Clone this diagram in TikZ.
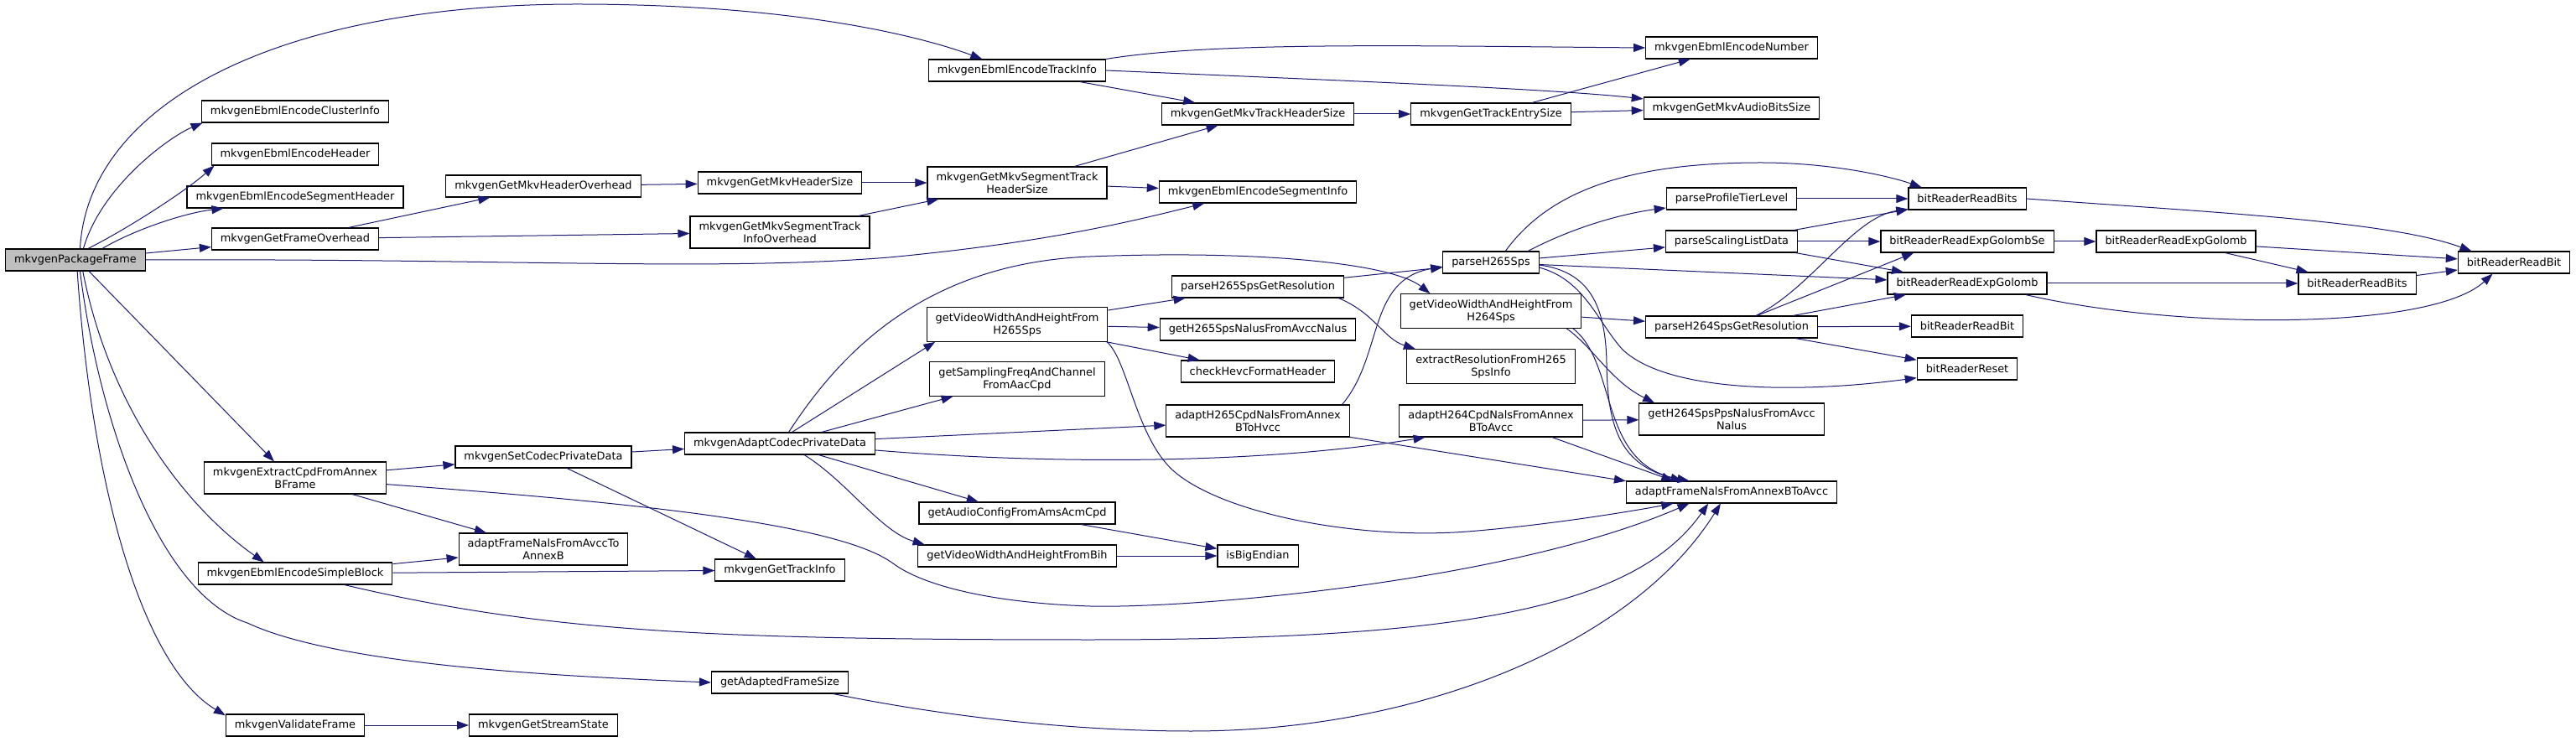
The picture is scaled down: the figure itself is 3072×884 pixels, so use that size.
\documentclass[tikz,border=0pt]{standalone}
\usepackage{fontspec}
\setmainfont{DejaVu Sans}
\usepackage{tikz}
\usetikzlibrary{arrows.meta, positioning}
\definecolor{edgeblue}{HTML}{191970}
\definecolor{rootgray}{HTML}{BFBFBF}

\begin{document}
\begin{tikzpicture}[
  x=1pt, y=1pt,
  fn/.style={draw=black, line width=1.1pt, fill=white, minimum height=26pt, inner xsep=10.5pt, inner ysep=6.5pt, align=center, font=\fontsize{12.9}{15}\selectfont},
  rootfn/.style={fn, fill=rootgray},
  arr/.style={-{Triangle[length=14pt,width=10pt]}, line width=1pt, edgeblue},
]
\useasboundingbox (0,0) rectangle (3072,884);

% Caller
\node[rootfn] (pkg) at (90,574) {mkvgenPackageFrame};

% Level 1
\node[fn] (clusterinfo) at (352,751) {mkvgenEbmlEncodeClusterInfo};
\node[fn] (ebmlhdr) at (352,700) {mkvgenEbmlEncodeHeader};
\node[fn] (seghdr) at (352,649) {mkvgenEbmlEncodeSegmentHeader};
\node[fn] (frameovh) at (352,599) {mkvgenGetFrameOverhead};
\node[fn] (extractcpd) at (352,314) {mkvgenExtractCpdFromAnnex\\BFrame};
\node[fn] (simpleblock) at (352,200) {mkvgenEbmlEncodeSimpleBlock};
\node[fn] (validate) at (352,19) {mkvgenValidateFrame};

% Level 2
\node[fn] (hdrovh) at (648,662) {mkvgenGetMkvHeaderOverhead};
\node[fn] (setcpd) at (648,339) {mkvgenSetCodecPrivateData};
\node[fn] (avcc2annexb) at (648,229) {adaptFrameNalsFromAvccTo\\AnnexB};
\node[fn] (streamstate) at (648,19) {mkvgenGetStreamState};

% Level 3
\node[fn] (hdrsize) at (930,666) {mkvgenGetMkvHeaderSize};
\node[fn] (seginfoovh) at (930,607) {mkvgenGetMkvSegmentTrack\\InfoOverhead};
\node[fn] (adaptcpd) at (930,355) {mkvgenAdaptCodecPrivateData};
\node[fn] (gettrackinfo) at (930,204) {mkvgenGetTrackInfo};
\node[fn] (adaptedsize) at (930,70) {getAdaptedFrameSize};

% Level 4
\node[fn] (enctrackinfo) at (1213,800) {mkvgenEbmlEncodeTrackInfo};
\node[fn] (segtrkhdr) at (1213,666) {mkvgenGetMkvSegmentTrack\\HeaderSize};
\node[fn] (vwh265) at (1213,497) {getVideoWidthAndHeightFrom\\H265Sps};
\node[fn] (sampfreq) at (1213,432) {getSamplingFreqAndChannel\\FromAacCpd};
\node[fn] (audiocfg) at (1213,272) {getAudioConfigFromAmsAcmCpd};
\node[fn] (vwhbih) at (1213,221) {getVideoWidthAndHeightFromBih};

% Level 5
\node[fn] (trkhdrsize) at (1500,748) {mkvgenGetMkvTrackHeaderSize};
\node[fn] (encseginfo) at (1500,655) {mkvgenEbmlEncodeSegmentInfo};
\node[fn] (h265res) at (1500,542) {parseH265SpsGetResolution};
\node[fn] (h265nalus) at (1500,491) {getH265SpsNalusFromAvccNalus};
\node[fn] (hevchdr) at (1500,441) {checkHevcFormatHeader};
\node[fn] (h265cpd) at (1500,382) {adaptH265CpdNalsFromAnnex\\BToHvcc};
\node[fn] (bigendian) at (1500,221) {isBigEndian};

% Level 6
\node[fn] (entrysize) at (1778,748) {mkvgenGetTrackEntrySize};
\node[fn] (h265sps) at (1778,571) {parseH265Sps};
\node[fn] (vwh264) at (1778,513) {getVideoWidthAndHeightFrom\\H264Sps};
\node[fn] (extractres) at (1778,447) {extractResolutionFromH265\\SpsInfo};
\node[fn] (h264cpd) at (1778,382) {adaptH264CpdNalsFromAnnex\\BToAvcc};

% Level 7
\node[fn] (encnumber) at (2065,827) {mkvgenEbmlEncodeNumber};
\node[fn] (audiobits) at (2065,755) {mkvgenGetMkvAudioBitsSize};
\node[fn] (profiletier) at (2065,647) {parseProfileTierLevel};
\node[fn] (scalinglist) at (2065,596) {parseScalingListData};
\node[fn] (h264res) at (2065,494) {parseH264SpsGetResolution};
\node[fn] (h264nalus) at (2065,384) {getH264SpsPpsNalusFromAvcc\\Nalus};
\node[fn] (annexb2avcc) at (2065,297) {adaptFrameNalsFromAnnexBToAvcc};

% Bit reader
\node[fn] (readbits) at (2346,647) {bitReaderReadBits};
\node[fn] (golombse) at (2346,596) {bitReaderReadExpGolombSe};
\node[fn] (golomb) at (2346,546) {bitReaderReadExpGolomb};
\node[fn] (readbit) at (2346,495) {bitReaderReadBit};
\node[fn] (reset) at (2346,444) {bitReaderReset};
\node[fn] (golomb2) at (2595,596) {bitReaderReadExpGolomb};
\node[fn] (readbits2) at (2811,546) {bitReaderReadBits};
\node[fn] (readbit2) at (2998,571) {bitReaderReadBit};

% Calls from mkvgenPackageFrame
\draw[arr] (pkg.68) .. controls (105,760) and (330,879) .. (688,879) .. controls (950,879) and (1100,840) .. (enctrackinfo.162);
\draw[arr] (pkg.55) .. controls (120,660) and (200,720) .. (clusterinfo.-173);
\draw[arr] (pkg.42) .. controls (150,610) and (220,655) .. (ebmlhdr.-172);
\draw[arr] (pkg.23) .. controls (160,610) and (220,630) .. (seghdr.-171);
\draw[arr] (pkg) -- (frameovh);
\draw[arr] (pkg.east) .. controls (600,576) and (850,560) .. (1060,577) .. controls (1250,595) and (1350,620) .. (encseginfo.-168);
\draw[arr] (pkg.-40) -- (extractcpd.142);
\draw[arr] (pkg.-57) .. controls (130,400) and (220,280) .. (simpleblock.160);
\draw[arr] (pkg.-68) .. controls (118,380) and (190,175) .. (295,141) .. controls (400,92) and (650,78) .. (adaptedsize.west);
\draw[arr] (pkg.-81) .. controls (110,300) and (170,90) .. (validate.172);

% Header / track info
\draw[arr] (frameovh) -- (hdrovh);
\draw[arr] (frameovh) -- (seginfoovh);
\draw[arr] (hdrovh) -- (hdrsize);
\draw[arr] (hdrsize) -- (segtrkhdr);
\draw[arr] (seginfoovh) -- (segtrkhdr);
\draw[arr] (segtrkhdr) -- (trkhdrsize);
\draw[arr] (segtrkhdr) -- (encseginfo);
\draw[arr] (enctrackinfo.north east) .. controls (1450,835) and (1700,829) .. (encnumber.west);
\draw[arr] (enctrackinfo.east) .. controls (1600,788) and (1850,778) .. (audiobits.174);
\draw[arr] (enctrackinfo) -- (trkhdrsize);
\draw[arr] (trkhdrsize) -- (entrysize);
\draw[arr] (entrysize) -- (encnumber);
\draw[arr] (entrysize) -- (audiobits);

% Codec private data / frames
\draw[arr] (extractcpd) -- (setcpd);
\draw[arr] (extractcpd) -- (avcc2annexb);
\draw[arr] (extractcpd.-4) .. controls (750,285) and (1000,260) .. (1065,212) .. controls (1100,186) and (1180,165) .. (1300,161) .. controls (1420,158) and (1800,190) .. (annexb2avcc.-165);
\draw[arr] (setcpd) -- (adaptcpd);
\draw[arr] (setcpd) -- (gettrackinfo);
\draw[arr] (simpleblock) -- (avcc2annexb);
\draw[arr] (simpleblock) -- (gettrackinfo);
\draw[arr] (simpleblock.-13) .. controls (650,130) and (850,121) .. (1300,121) .. controls (1750,121) and (1950,160) .. (annexb2avcc.-154);
\draw[arr] (adaptedsize.-12) .. controls (1150,25) and (1300,12) .. (1420,12) .. controls (1700,12) and (1950,120) .. (annexb2avcc.-134);
\draw[arr] (validate) -- (streamstate);

% mkvgenAdaptCodecPrivateData
\draw[arr] (adaptcpd.43) -- (vwh265.-168);
\draw[arr] (adaptcpd.52) .. controls (1000,460) and (1100,570) .. (1300,578) .. controls (1500,586) and (1660,570) .. (vwh264.164);
\draw[arr] (adaptcpd) -- (sampfreq);
\draw[arr] (adaptcpd) -- (h265cpd);
\draw[arr] (adaptcpd.-4) .. controls (1250,330) and (1500,330) .. (h264cpd.-166);
\draw[arr] (adaptcpd) -- (audiocfg);
\draw[arr] (adaptcpd.-25) .. controls (1010,310) and (1050,250) .. (vwhbih.173);
\draw[arr] (audiocfg) -- (bigendian);
\draw[arr] (vwhbih) -- (bigendian);

% H265
\draw[arr] (vwh265) -- (h265res);
\draw[arr] (vwh265) -- (h265nalus);
\draw[arr] (vwh265) -- (hevchdr);
\draw[arr] (vwh265.-11) .. controls (1345,455) and (1355,360) .. (1401,321) .. controls (1460,271) and (1620,240) .. (1750,250) .. controls (1850,258) and (1950,275) .. (annexb2avcc.-169);
\draw[arr] (h265res) -- (h265sps);
\draw[arr] (h265res.-8) .. controls (1640,510) and (1650,480) .. (extractres.167);
\draw[arr] (h265cpd.11) .. controls (1650,460) and (1630,550) .. (h265sps.-175);
\draw[arr] (h265cpd.-10) -- (annexb2avcc.174);

% H264
\draw[arr] (vwh264) -- (h264res);
\draw[arr] (vwh264.-13) .. controls (1900,470) and (1920,430) .. (h264nalus.168);
\draw[arr] (vwh264.-12) .. controls (1930,450) and (1905,330) .. (annexb2avcc.165);
\draw[arr] (h264cpd) -- (h264nalus);
\draw[arr] (h264cpd.-15.5) -- (annexb2avcc.169);

% parseH265Sps
\draw[arr] (h265sps.38) .. controls (1850,660) and (1950,690) .. (2100,690) .. controls (2180,690) and (2250,675) .. (readbits.166);
\draw[arr] (h265sps.17) .. controls (1880,615) and (1940,630) .. (profiletier.-172);
\draw[arr] (h265sps) -- (scalinglist);
\draw[arr] (h265sps) -- (golomb);
\draw[arr] (h265sps.-3) .. controls (1895,560) and (1915,520) .. (1916,450) .. controls (1917,370) and (1935,330) .. (annexb2avcc.167);
\draw[arr] (h265sps.-6) .. controls (1890,550) and (1905,500) .. (1935,467) .. controls (1990,415) and (2150,415) .. (reset.-170);

% Bit reader
\draw[arr] (profiletier) -- (readbits);
\draw[arr] (scalinglist) -- (readbits);
\draw[arr] (scalinglist) -- (golombse);
\draw[arr] (scalinglist) -- (golomb);
\draw[arr] (h264res.25) .. controls (2160,540) and (2210,625) .. (readbits.-170);
\draw[arr] (h264res.24) -- (golombse.-168);
\draw[arr] (h264res) -- (golomb);
\draw[arr] (h264res) -- (readbit);
\draw[arr] (h264res) -- (reset);
\draw[arr] (readbits.east) .. controls (2650,630) and (2850,620) .. (readbit2.165);
\draw[arr] (golombse) -- (golomb2);
\draw[arr] (golomb2) -- (readbit2);
\draw[arr] (golomb2) -- (readbits2);
\draw[arr] (golomb) -- (readbits2);
\draw[arr] (golomb.-11) .. controls (2600,490) and (2900,490) .. (readbit2.-152);
\draw[arr] (readbits2) -- (readbit2);

\end{tikzpicture}
\end{document}
